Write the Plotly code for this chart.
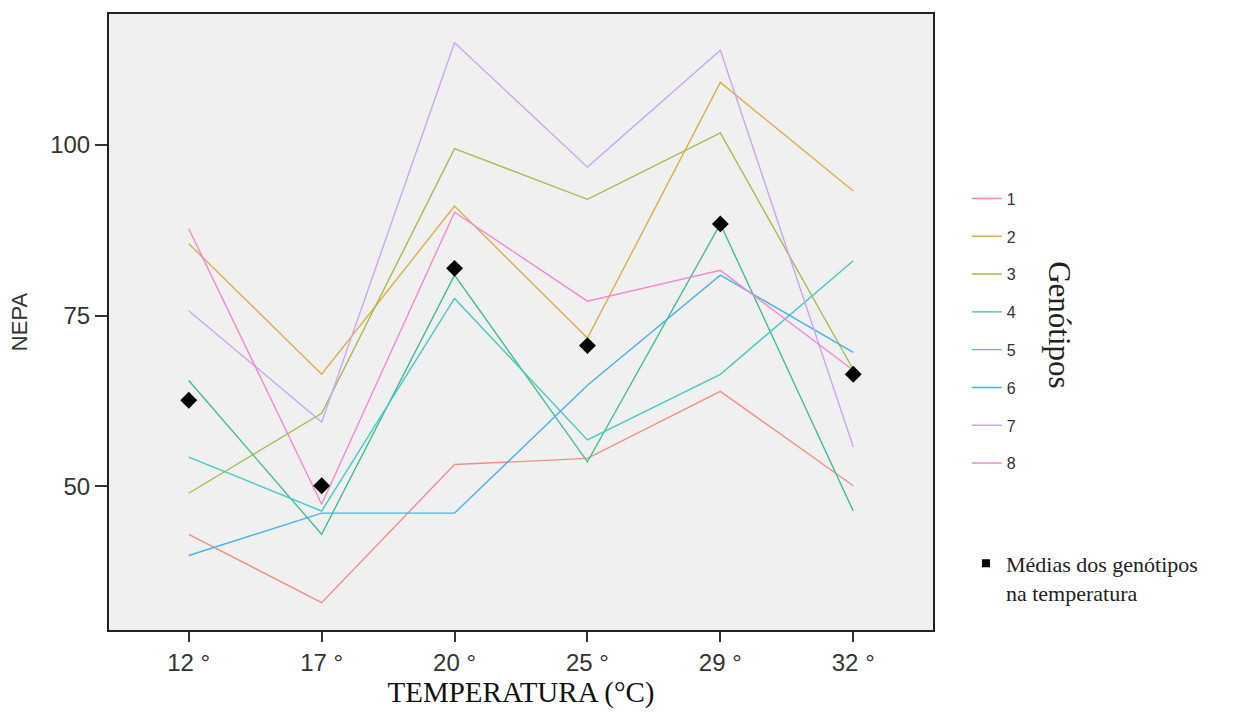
import plotly.graph_objects as go

temps = ["12 °", "17 °", "20 °", "25 °", "29 °", "32 °"]
genotypes = ["1", "2", "3", "4", "5", "6", "7", "8"]
g1 = [43.0, 33.0, 53.2, 54.1, 63.9, 50.1]
g2 = [85.5, 66.4, 91.0, 71.7, 109.1, 93.2]
g3 = [49.0, 60.7, 99.4, 92.0, 101.7, 67.1]
g4 = [65.5, 43.0, 80.9, 53.6, 88.4, 46.4]
g5 = [54.3, 46.4, 77.5, 56.8, 66.4, 83.0]
g6 = [39.9, 46.1, 46.1, 64.8, 80.9, 69.6]
g7 = [75.7, 59.4, 114.9, 96.7, 113.8, 55.8]
g8 = [87.7, 47.4, 90.1, 77.1, 81.6, 67.0]
means = [62.6, 50.1, 81.9, 70.6, 88.4, 66.4]

series = [g1, g2, g3, g4, g5, g6, g7, g8]
colors = ["#f28e86", "#d9b043", "#a7bb4a", "#3ec08e", "#45c9c6", "#46b3e8",
          "#c9a6f5", "#f487cf"]

fig = go.Figure()
for name, vals, col in zip(genotypes, series, colors):
    fig.add_trace(go.Scatter(
        x=temps, y=vals, mode="lines", name=name, legendgroup=name,
        line=dict(color=col, width=1.4), legend="legend"))

fig.add_trace(go.Scatter(
    x=temps, y=means, mode="markers", showlegend=False,
    marker=dict(symbol="diamond", size=13, color="black")))
fig.add_trace(go.Scatter(
    x=[None], y=[None], mode="markers",
    name="Médias dos genótipos<br>na temperatura",
    marker=dict(symbol="square", size=8, color="black"), legend="legend2"))

fig.update_layout(
    width=1236, height=712,
    margin=dict(l=109, r=303, t=13, b=77),
    paper_bgcolor="white", plot_bgcolor="#f0f0f0",
    showlegend=True,
    legend=dict(x=1.041, y=0.728, xanchor="left", yanchor="top",
                font=dict(family="Liberation Sans", size=16, color="#333"),
                tracegroupgap=14, itemwidth=30, bgcolor="rgba(0,0,0,0)"),
    legend2=dict(x=1.04, y=0.142, xanchor="left", yanchor="top",
                 font=dict(family="Liberation Serif", size=22, color="#222"),
                 valign="top", bgcolor="rgba(0,0,0,0)"),
    annotations=[dict(text="Genótipos", textangle=90, showarrow=False,
                      xref="paper", yref="paper", x=1.154, y=0.495,
                      xanchor="center", yanchor="middle",
                      font=dict(family="Liberation Serif", size=31, color="#222"))],
)

fig.update_xaxes(
    type="category", range=[-0.6, 5.6],
    showline=True, mirror=True, linecolor="#222", linewidth=2,
    ticks="outside", ticklen=10, tickwidth=1.5, tickcolor="#333",
    showgrid=False, zeroline=False,
    tickfont=dict(family="Liberation Sans", size=24, color="#333"),
    title=dict(text="TEMPERATURA (°C)", standoff=4,
               font=dict(family="Liberation Serif", size=29, color="#111")))

fig.update_yaxes(
    range=[29, 119.1], tickvals=[50, 75, 100],
    showline=True, mirror=True, linecolor="#222", linewidth=2,
    ticks="outside", ticklen=12, tickwidth=1.5, tickcolor="#333",
    showgrid=False, zeroline=False,
    tickfont=dict(family="Liberation Sans", size=24, color="#333"),
    title=dict(text="NEPA", standoff=16,
               font=dict(family="Liberation Sans", size=22, color="#333")))

fig.write_html("out.html")
